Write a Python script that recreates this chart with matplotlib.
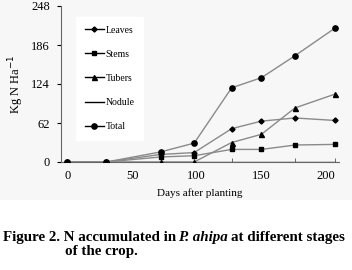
import matplotlib
matplotlib.use("Agg")
import matplotlib.pyplot as plt
from matplotlib.patches import Rectangle

days = [0, 30, 72, 98, 127, 150, 176, 207]
leaves = [0, 0, 12, 15, 53, 65, 70, 66]
stems = [0, 0, 8, 10, 20, 20, 27, 28]
tubers = [0, 0, 0, 0, 31, 44, 86, 108]
nodule = [0, 0, 0, 0, 0, 0, 0, 0]
total = [0, 0, 16, 30, 118, 134, 169, 213]
yticks = [0, 62, 124, 186, 248]
xticks = [0, 50, 100, 150, 200]

serif = ["Liberation Serif", "DejaVu Serif"]
plt.rcParams['font.family'] = serif

fig = plt.figure(figsize=(3.52, 2.70), dpi=100)
fig.patch.set_facecolor("white")
fig.patches.append(Rectangle((0, 0.26), 1, 0.74, transform=fig.transFigure,
                             facecolor="#f7f7f7", edgecolor="none", zorder=-10))

ax = fig.add_axes([61/352, 1-162/270, (339-61)/352, (162-6)/270])
ax.set_facecolor("#f7f7f7")

lc = "#8a8a8a"
ax.plot(days, leaves, color=lc, lw=1, marker="D", ms=2.6, mfc="black", mec="black", label="Leaves", zorder=3)
ax.plot(days, stems, color=lc, lw=1, marker="s", ms=3.2, mfc="black", mec="black", label="Stems", zorder=3)
ax.plot(days, tubers, color=lc, lw=1, marker="^", ms=3.6, mfc="black", mec="black", label="Tubers", zorder=3)
ax.plot(days, nodule, color="#333333", lw=1, label="Nodule", zorder=2)
ax.plot(days, total, color=lc, lw=1, marker="o", ms=3.8, mfc="black", mec="black", label="Total", zorder=3)

ax.set_xlim(-5, 210)
ax.set_ylim(0, 248)
ax.set_yticks(yticks)
ax.set_xticks(xticks)
ax.set_xticks(days[2:], minor=True)
ax.tick_params(axis="x", which="major", length=0, pad=6, labelsize=9)
ax.tick_params(axis="x", which="minor", length=3, direction="in", color="#555555")
ax.tick_params(axis="y", length=3, direction="out", labelsize=9, pad=5)
for s in ["top", "right"]:
    ax.spines[s].set_visible(False)
ax.spines["left"].set_color("#666666")
ax.spines["bottom"].set_color("#666666")

ax.set_xlabel("Days after planting", fontsize=8, labelpad=4)
ax.set_ylabel("Kg N Ha$^{-1}$", fontsize=9, labelpad=4)

leg = ax.legend(loc="upper left", bbox_to_anchor=((76-61)/278, (162-17)/156), fontsize=7,
                frameon=True, fancybox=False, edgecolor="white", facecolor="white",
                framealpha=1, labelspacing=1.55, handlelength=2.0, handletextpad=0.15,
                borderpad=0.9, borderaxespad=0)
for l in leg.get_lines():
    l.set_color("black")

# Caption
fs = 10.8
y1 = 1 - 238/270
y2 = 1 - 251/270
fig.canvas.draw()
r = fig.canvas.get_renderer()

def width(s, st="normal"):
    t = fig.text(0, 0, s, fontsize=fs, fontweight="bold", style=st)
    w = t.get_window_extent(renderer=r).width
    t.remove()
    return w

sp = width("a a") - width("aa")
parts = [("Figure 2. N accumulated in", "normal", -2.0), ("P. ahipa", "italic", 0.0),
         ("at different stages", "normal", 0.0)]
x = 3
for txt, st, adj in parts:
    t = fig.text(x / fig.bbox.width, y1, txt, fontsize=fs, fontweight="bold", style=st, va="center", ha="left")
    x += t.get_window_extent(renderer=r).width + sp + adj
fig.text(65/352, y2, "of the crop.", fontsize=fs, fontweight="bold", va="center", ha="left")

fig.savefig("out.png", dpi=100, facecolor=fig.get_facecolor())
